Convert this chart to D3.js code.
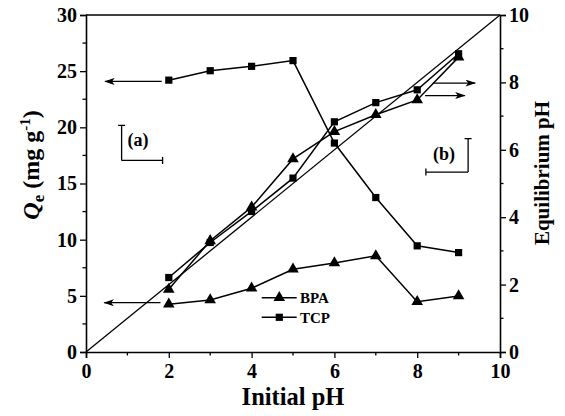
<!DOCTYPE html>
<html>
<head>
<meta charset="utf-8">
<script src="https://cdn.jsdelivr.net/npm/d3@7"></script>
<style>
	body { margin: 0; background: #fff; }
	svg text { font-family: 'Liberation Serif', 'Times New Roman', serif; font-weight: bold; fill: #000; }
</style>
</head>
<body>
<svg id="chart" width="565" height="416"></svg>
<script>
/* global d3 */

const initialPH = [2, 3, 4, 5, 6, 7, 8, 9];
const bpaQe = [4.25, 4.63, 5.68, 7.37, 7.93, 8.56, 4.48, 4.99];
const tcpQe = [24.2, 25.04, 25.43, 25.94, 18.6, 13.75, 9.45, 8.85];
const bpaEqPH = [1.86, 3.3, 4.3, 5.73, 6.54, 7.04, 7.48, 8.75];
const tcpEqPH = [2.21, 3.25, 4.17, 5.16, 6.83, 7.4, 7.78, 8.85];

const xTicks = [0, 2, 4, 6, 8, 10];
const qeTicks = [0, 5, 10, 15, 20, 25, 30];
const phTicks = [0, 2, 4, 6, 8, 10];

// arrows: which axis a series belongs to (axis: 'left' uses Qe, 'right' uses pH)
const arrows = [
	{axis: 'left', x0: 1.83, x1: 0.46, v: 24.09},
	{axis: 'left', x0: 1.8, x1: 0.44, v: 4.39},
	{axis: 'right', x0: 8.38, x1: 9.4, v: 7.98},
	{axis: 'right', x0: 8.19, x1: 9.15, v: 7.61},
];

const margins = {left: 86, right: 65, top: 15, bottom: 64};
const width = 565 - margins.left - margins.right;
const height = 416 - margins.top - margins.bottom;

const svg = d3.select('#chart');
const g = svg.append('g')
	.attr('transform', `translate(${margins.left},${margins.top})`);

const x = d3.scaleLinear().domain([0, 10]).range([0, width]);
const yQe = d3.scaleLinear().domain([0, 30]).range([height, 0]);
const yPH = d3.scaleLinear().domain([0, 10]).range([height, 0]);

svg.append('defs').append('marker')
	.attr('id', 'head')
	.attr('viewBox', '0 0 12 8')
	.attr('refX', 11)
	.attr('refY', 4)
	.attr('markerWidth', 12)
	.attr('markerHeight', 7)
	.attr('markerUnits', 'userSpaceOnUse')
	.attr('orient', 'auto')
	.append('path')
	.attr('d', 'M0,0 L12,4 L0,8 L3,4 Z')
	.attr('fill', '#000');

// axes
const bottomAxis = g.append('g')
	.attr('transform', `translate(0,${height})`)
	.call(d3.axisBottom(x).tickValues(xTicks).tickSize(6).tickPadding(4).tickFormat(d3.format('d')));
bottomAxis.append('g').selectAll('line')
	.data([1, 3, 5, 7, 9])
	.enter().append('line')
	.attr('x1', d => x(d)).attr('x2', d => x(d))
	.attr('y1', 0).attr('y2', 3.5)
	.attr('stroke', '#000').attr('stroke-width', 1.3);

const leftAxis = g.append('g')
	.call(d3.axisLeft(yQe).tickValues(qeTicks).tickSize(6).tickPadding(3));
leftAxis.append('g').selectAll('line')
	.data([2.5, 7.5, 12.5, 17.5, 22.5, 27.5])
	.enter().append('line')
	.attr('y1', d => yQe(d)).attr('y2', d => yQe(d))
	.attr('x1', 0).attr('x2', -3.5)
	.attr('stroke', '#000').attr('stroke-width', 1.3);

const rightAxis = g.append('g')
	.attr('transform', `translate(${width},0)`)
	.call(d3.axisRight(yPH).tickValues(phTicks).tickSize(6).tickPadding(3));
rightAxis.append('g').selectAll('line')
	.data([1, 3, 5, 7, 9])
	.enter().append('line')
	.attr('y1', d => yPH(d)).attr('y2', d => yPH(d))
	.attr('x1', 0).attr('x2', 3.5)
	.attr('stroke', '#000').attr('stroke-width', 1.3);

g.append('line')
	.attr('x1', 0).attr('x2', width)
	.attr('y1', 0).attr('y2', 0)
	.attr('stroke', '#000').attr('stroke-width', 1.6);

[bottomAxis, leftAxis, rightAxis].forEach(a => {
	a.select('.domain').attr('stroke-width', 1.6);
	a.selectAll('.tick line').attr('stroke-width', 1.3);
	a.selectAll('.tick text').attr('font-size', 20).attr('font-family', null);
});
bottomAxis.selectAll('.tick text').attr('dy', '0.8em');

// diagonal: equilibrium pH = initial pH
g.append('line')
	.attr('x1', x(0)).attr('y1', yPH(0))
	.attr('x2', x(10)).attr('y2', yPH(10))
	.attr('stroke', '#000').attr('stroke-width', 1.3);

const series = [
	{values: tcpQe, y: yQe, shape: 'square'},
	{values: bpaQe, y: yQe, shape: 'triangle'},
	{values: tcpEqPH, y: yPH, shape: 'square'},
	{values: bpaEqPH, y: yPH, shape: 'triangle'},
];

const symbols = {
	square: d3.symbol().type(d3.symbolSquare).size(52),
	triangle: d3.symbol().type(d3.symbolTriangle).size(58),
};

series.forEach(s => {
	const pts = initialPH.map((p, i) => [x(p), s.y(s.values[i])]);
	g.append('path')
		.attr('d', d3.line()(pts))
		.attr('fill', 'none')
		.attr('stroke', '#000')
		.attr('stroke-width', 1.5);
	g.selectAll(null)
		.data(pts)
		.enter().append('path')
		.attr('d', symbols[s.shape])
		.attr('transform', d => `translate(${d[0]},${d[1]})`)
		.attr('fill', '#000');
});

arrows.forEach(a => {
	const sc = a.axis === 'left' ? yQe : yPH;
	g.append('line')
		.attr('x1', x(a.x0)).attr('x2', x(a.x1))
		.attr('y1', sc(a.v)).attr('y2', sc(a.v))
		.attr('stroke', '#000').attr('stroke-width', 1.3)
		.attr('marker-end', 'url(#head)');
});

// (a) / (b) axis indicators
function bracket(xv, xh0, xh1, vTop, vBot, sc) {
	const path = d3.path();
	path.moveTo(x(xv), sc(vTop));
	path.lineTo(x(xv), sc(vBot));
	path.moveTo(x(xh0), sc(vBot));
	path.lineTo(x(xh1), sc(vBot));
	// caps
	path.moveTo(x(xv) - 3.5, sc(vTop));
	path.lineTo(x(xv) + 3.5, sc(vTop));
	const capX = xh0 === xv ? xh1 : xh0;
	path.moveTo(x(capX), sc(vBot) - 3.5);
	path.lineTo(x(capX), sc(vBot) + 3.5);
	g.append('path').attr('d', path.toString())
		.attr('fill', 'none').attr('stroke', '#000').attr('stroke-width', 1.3);
}
bracket(0.86, 0.86, 1.85, 20.17, 17.05, yQe);
bracket(9.23, 8.21, 9.23, 6.33, 5.34, yPH);

g.append('text')
	.attr('x', x(1.0)).attr('y', yQe(18.3))
	.attr('font-size', 18)
	.text('(a)');
g.append('text')
	.attr('x', x(8.38)).attr('y', yPH(5.7))
	.attr('font-size', 18)
	.text('(b)');

// legend
const legend = g.append('g');
[{label: 'BPA', shape: 'triangle', dy: 297.7}, {label: 'TCP', shape: 'square', dy: 317.3}].forEach(item => {
	const yy = item.dy - margins.top;
	legend.append('line')
		.attr('x1', 261.7 - margins.left).attr('x2', 296.7 - margins.left)
		.attr('y1', yy).attr('y2', yy)
		.attr('stroke', '#000').attr('stroke-width', 1.5);
	legend.append('path')
		.attr('d', symbols[item.shape])
		.attr('transform', `translate(${279.3 - margins.left},${yy})`)
		.attr('fill', '#000');
	legend.append('text')
		.attr('x', 300 - margins.left).attr('y', yy + 5.5)
		.attr('font-size', 15)
		.text(item.label);
});

// axis titles
svg.append('text')
	.attr('x', 293).attr('y', 405)
	.attr('text-anchor', 'middle')
	.attr('font-size', 24.5)
	.text('Initial pH');

const yTitle = svg.append('text')
	.attr('transform', 'translate(39,165) rotate(-90)')
	.attr('text-anchor', 'middle')
	.attr('font-size', 24);
yTitle.append('tspan').attr('font-style', 'italic').text('Q');
yTitle.append('tspan').attr('font-size', 17).attr('dy', 5).text('e');
yTitle.append('tspan').attr('dy', -5).text(' (mg g');
yTitle.append('tspan').attr('font-size', 15).attr('dy', -9).text('-1');
yTitle.append('tspan').attr('dy', 9).text(')');

svg.append('text')
	.attr('transform', 'translate(549,173) rotate(-90)')
	.attr('text-anchor', 'middle')
	.attr('font-size', 21)
	.text('Equilibrium pH');
</script>
</body>
</html>
